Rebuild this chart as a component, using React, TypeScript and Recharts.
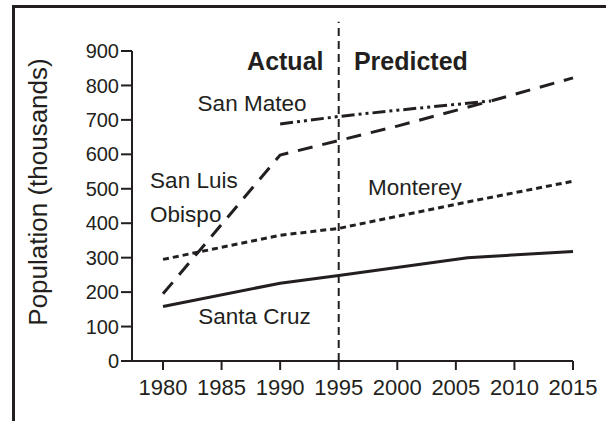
import React from 'react';
import { LineChart, Line, XAxis, YAxis, ReferenceLine, ReferenceDot } from 'recharts';

const xTicks = [1980, 1985, 1990, 1995, 2000, 2005, 2010, 2015];
const yTicks = [0, 100, 200, 300, 400, 500, 600, 700, 800, 900];

const santaCruzYears = [1980, 1990, 1995, 2006, 2015];
const santaCruzValues = [158, 226, 248, 300, 318];

const montereyYears = [1980, 1990, 1995, 2005, 2015];
const montereyValues = [295, 365, 385, 455, 522];

const sloYears = [1980, 1990, 1995, 2000, 2008, 2015];
const sloValues = [195, 598, 640, 682, 755, 822];

const sanMateoYears = [1990, 1995, 2000, 2005, 2008];
const sanMateoValues = [688, 710, 728, 745, 755];

const splitYear = 1995;

const labels = [
  { text: ['San Mateo'], x: 1987.6, y: 748, anchor: 'middle', bold: false },
  { text: ['San Luis', 'Obispo'], x: 1978.9, y: 525, anchor: 'start', bold: false },
  { text: ['Monterey'], x: 1997.5, y: 505, anchor: 'start', bold: false },
  { text: ['Santa Cruz'], x: 1983.0, y: 132, anchor: 'start', bold: false },
  { text: ['Actual'], x: 1993.7, y: 870, anchor: 'end', bold: true },
  { text: ['Predicted'], x: 1996.3, y: 870, anchor: 'start', bold: true },
];

const zip = (xs: number[], vs: number[]) => xs.map((year, i) => ({ year, v: vs[i] }));

const INK = '#231f20';
const FONT = '"Liberation Sans", Arial, Helvetica, sans-serif';

const makeLabel = (lines: string[], anchor: string, bold: boolean) => (props: any) => {
  const vb = props.viewBox || {};
  const cx = (vb.x ?? 0) + (vb.width ?? 0) / 2;
  const cy = (vb.y ?? 0) + (vb.height ?? 0) / 2;
  return (
    <text
      x={cx}
      y={cy}
      textAnchor={anchor as any}
      fill={INK}
      fontFamily={FONT}
      fontSize={bold ? 25 : 22.5}
      fontWeight={bold ? 'bold' : 'normal'}
      dominantBaseline="central"
    >
      {lines.map((l, i) => (
        <tspan key={i} x={cx} dy={i === 0 ? 0 : 34}>
          {l}
        </tspan>
      ))}
    </text>
  );
};

const YLabel = (props: any) => {
  const vb = props.viewBox || {};
  const cy = vb.y + vb.height / 2 - 14;
  const cx = 38;
  return (
    <text
      x={cx}
      y={cy}
      transform={`rotate(-90, ${cx}, ${cy})`}
      textAnchor="middle"
      dominantBaseline="central"
      fill={INK}
      fontFamily={FONT}
      fontSize={26}
    >
      Population (thousands)
    </text>
  );
};

export default function App() {
  return (
    <div
      style={{
        position: 'absolute',
        left: 0,
        top: 0,
        width: 606,
        height: 421,
        overflow: 'hidden',
        background: '#fff',
      }}
    >
      <div
        style={{
          position: 'absolute',
          left: 12,
          top: 5,
          width: 700,
          height: 500,
          borderLeft: `3px solid ${INK}`,
          borderTop: `3px solid ${INK}`,
        }}
      />
      <div style={{ position: 'absolute', left: 0, top: 0 }}>
        <LineChart width={606} height={421} margin={{ top: 51, right: 33, bottom: 0, left: 0 }}>
          <XAxis
            dataKey="year"
            type="number"
            domain={[1980, 2015]}
            ticks={xTicks}
            padding={{ left: 31, right: 0 }}
            allowDuplicatedCategory={false}
            height={60}
            tickSize={9}
            tickMargin={9}
            stroke={INK}
            strokeWidth={2}
            tick={{ fill: INK, fontFamily: FONT, fontSize: 22 }}
            interval={0}
          />
          <YAxis
            type="number"
            domain={[0, 900]}
            ticks={yTicks}
            width={132}
            tickSize={11}
            tickMargin={2}
            stroke={INK}
            strokeWidth={2}
            tick={{ fill: INK, fontFamily: FONT, fontSize: 20 }}
            interval={0}
            label={<YLabel />}
          />
          <ReferenceLine
            segment={[
              { x: splitYear, y: 0 },
              { x: splitYear, y: 985 },
            ]}
            ifOverflow="visible"
            stroke={INK}
            strokeWidth={2}
            strokeDasharray="8 5"
          />
          <Line
            data={zip(santaCruzYears, santaCruzValues)}
            dataKey="v"
            stroke={INK}
            strokeWidth={3}
            dot={false}
            isAnimationActive={false}
          />
          <Line
            data={zip(montereyYears, montereyValues)}
            dataKey="v"
            stroke={INK}
            strokeWidth={3}
            strokeDasharray="6 4"
            dot={false}
            isAnimationActive={false}
          />
          <Line
            data={zip(sloYears, sloValues)}
            dataKey="v"
            stroke={INK}
            strokeWidth={3}
            strokeDasharray="15 10"
            dot={false}
            isAnimationActive={false}
          />
          <Line
            data={zip(sanMateoYears, sanMateoValues)}
            dataKey="v"
            stroke={INK}
            strokeWidth={3}
            strokeDasharray="13 4 3 4 3 4"
            dot={false}
            isAnimationActive={false}
          />
          {labels.map((l, i) => (
            <ReferenceDot
              key={i}
              x={l.x}
              y={l.y}
              r={0}
              ifOverflow="visible"
              stroke="none"
              fill="none"
              label={makeLabel(l.text, l.anchor, l.bold)}
            />
          ))}
        </LineChart>
      </div>
    </div>
  );
}
